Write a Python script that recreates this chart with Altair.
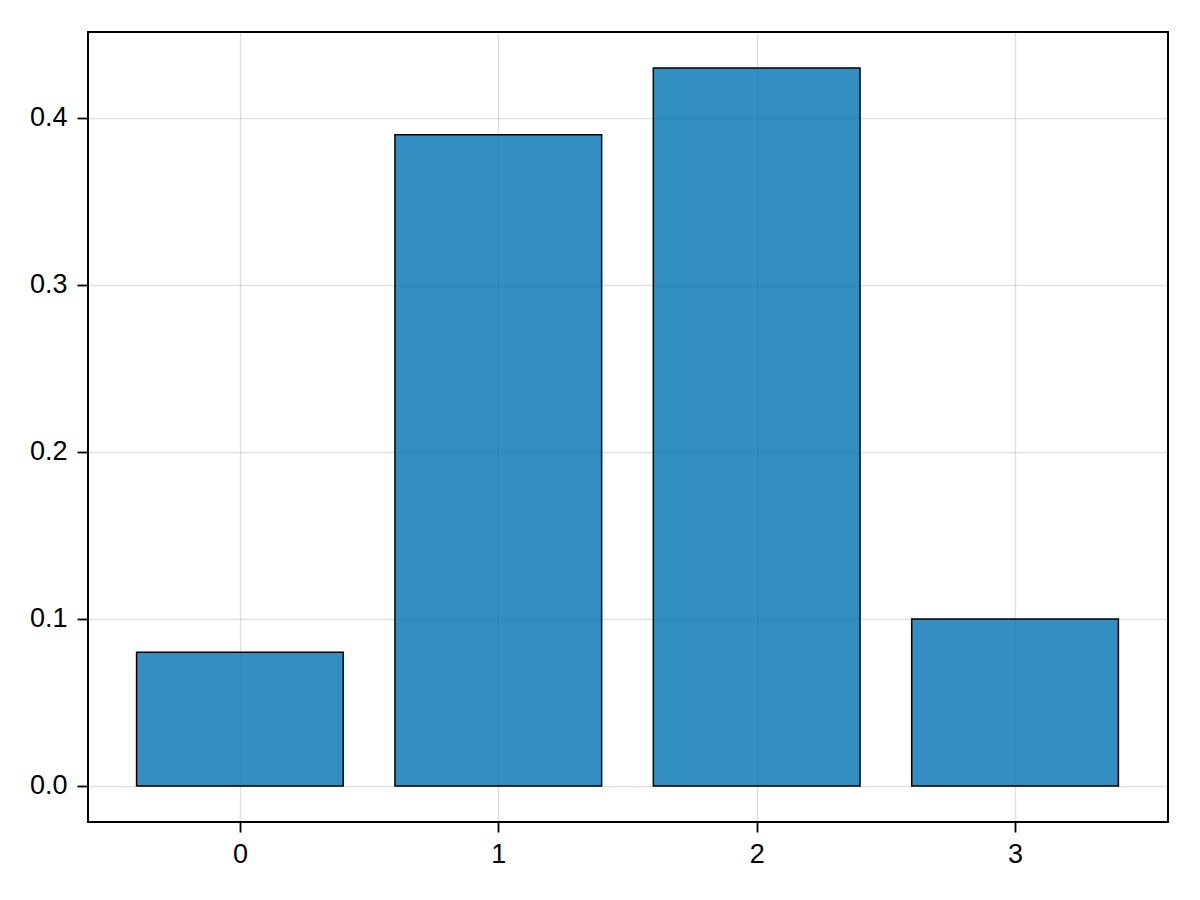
import altair as alt
import pandas as pd

categories = [0, 1, 2, 3]
values = [0.08, 0.39, 0.43, 0.10]

df = pd.DataFrame({"x": categories, "y": values})

bars = (
    alt.Chart(df)
    .transform_calculate(x0="datum.x - 0.4", x1="datum.x + 0.4", y0="0")
    .mark_rect(fill="#0072B2", fillOpacity=0.8, stroke="black", strokeWidth=1.5)
    .encode(
        x=alt.X(
            "x0:Q",
            scale=alt.Scale(domain=[-0.588, 3.592], nice=False, zero=False),
            axis=alt.Axis(values=[0, 1, 2, 3], format="d", title=None,
                          tickSize=10, labelPadding=9),
        ),
        x2="x1:Q",
        y=alt.Y(
            "y:Q",
            scale=alt.Scale(domain=[-0.0216, 0.4515], nice=False, zero=False),
            axis=alt.Axis(values=[0, 0.1, 0.2, 0.3, 0.4], format=".1f", title=None,
                          tickSize=11, labelPadding=10),
        ),
        y2="y0:Q",
    )
)

chart = (
    bars.properties(
        width=1080,
        height=790,
        autosize=alt.AutoSizeParams(type="none"),
        padding={"left": 80, "top": 24, "right": 24, "bottom": 70},
    )
    .configure_view(stroke="black", strokeWidth=2)
    .configure_axis(
        domain=False,
        ticks=True,
        tickColor="black",
        tickWidth=1.8,
        grid=True,
        gridColor="black",
        gridOpacity=0.12,
        gridWidth=1.5,
        labelFont="Liberation Sans",
        labelFontSize=27,
        labelColor="black",
    )
)

chart.save("out.html", embed_options={"renderer": "svg", "actions": False})
